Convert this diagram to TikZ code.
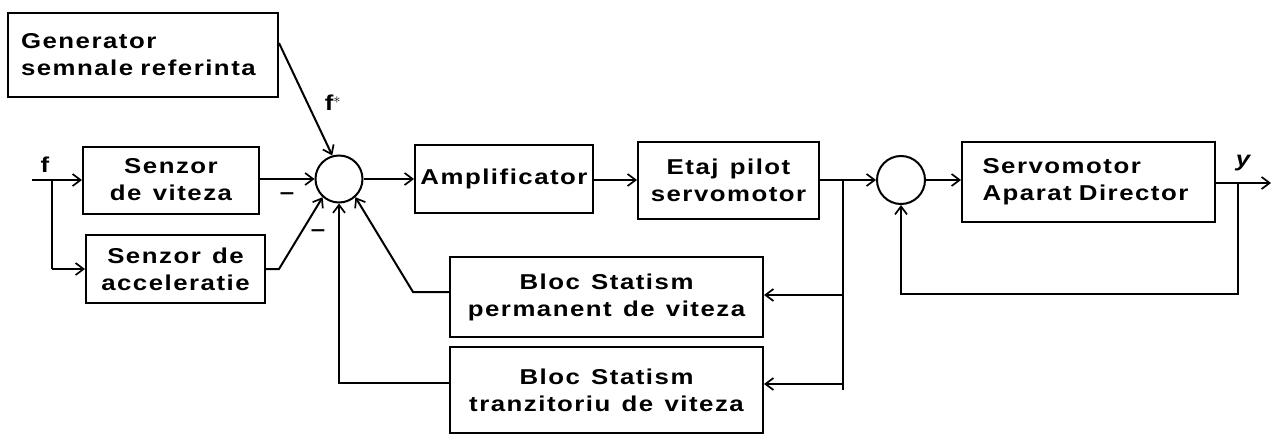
\documentclass[tikz,border=0pt]{standalone}
\usepackage{fontspec}
\newfontfamily\lab{Liberation Sans}[LetterSpace=7, FakeStretch=1.2, WordSpace=1.3]
\usetikzlibrary{arrows.meta,calc}
\begin{document}
\begin{tikzpicture}[x=1pt,y=-1pt,
  every node/.style={font=\lab\bfseries\fontsize{21.5}{27}\selectfont},
  blk/.style={draw, line width=2pt, inner sep=0pt, align=center},
  sumc/.style={draw, circle, line width=2pt, minimum size=47pt, inner sep=0pt},
  conn/.style={line width=2pt},
  arr/.style={conn, -{Straight Barb[length=8pt,width=12pt,line width=1.7pt]}},
  lbl/.style={inner sep=0pt}
]
\useasboundingbox (0,0) rectangle (1271,436);

% blocks
\node[blk, minimum width=270pt, minimum height=84pt, text width=244pt, align=left] (gen) at (143,55) {Generator\\semnale referinta};
\node[blk, minimum width=176pt, minimum height=67pt] (sv) at (171,180) {Senzor\\de viteza};
\node[blk, minimum width=179pt, minimum height=68pt] (sa) at (175.5,269) {Senzor de\\acceleratie};
\node[sumc] (c1) at (339,179) {};
\node[blk, minimum width=178pt, minimum height=68pt] (amp) at (504,179) {Amplificator};
\node[blk, minimum width=181pt, minimum height=77pt] (etaj) at (728.5,180) {Etaj pilot\\servomotor};
\node[sumc, minimum size=48pt] (c2) at (901,180) {};
\node[blk, minimum width=253pt, minimum height=80pt, text width=212pt, align=left] (servo) at (1088.5,182) {Servomotor\\Aparat Director};
\node[blk, minimum width=313pt, minimum height=80pt] (perm) at (606.5,297) {Bloc Statism\\permanent de viteza};
\node[blk, minimum width=313pt, minimum height=86pt] (tranz) at (606.5,390) {Bloc Statism\\tranzitoriu de viteza};

% labels
\node[lbl] (lf) at (45,165) {f};
\node[lbl] (lfs) at (333,103) {f$^{*}$};
\node[lbl] (ly) at (1243,163) {\itshape y};
\node[lbl] (m1) at (287,196) {\textendash};
\node[lbl] (m2) at (318,233) {\textendash};

% coordinates
\coordinate (fin) at (32,180);
\coordinate (fb) at (52,180);
\coordinate (yout) at (1271,183);
\coordinate (yb) at (1238,183);
\coordinate (eb) at (843,180);

% connectors
\draw[arr] (fin) -- (sv.west |- fin);
\draw[conn] (fb) -- (fb |- sa.west);
\draw[arr] (fb |- sa.west) -- (sa.west);
\draw[arr] (sv.east |- c1.west) -- (c1.west);
\draw[arr] (sa.east) -- ++(13,0) -- (c1.-132);
\draw[arr] ([yshift=12pt]gen.east) -- (c1.106);
\draw[arr] (c1.east) -- (amp.west |- c1.east);
\draw[arr] (amp.east |- etaj.west) -- (etaj.west);
\draw[arr] (etaj.east |- c2.west) -- (c2.west);
\draw[conn] (eb) -- (eb |- tranz.east);
\draw[arr] (eb |- 0,295) -- (perm.east |- 0,295);
\draw[arr] (eb |- 0,384) -- (tranz.east |- 0,384);
\draw[arr] (perm.west |- 0,292) -- (413,292) -- (c1.-48);
\draw[arr] (tranz.west |- 0,383) -- (c1.south |- 0,383) -- (c1.south);
\draw[arr] (c2.east) -- (servo.west |- c2.east);
\draw[arr] (servo.east |- yout) -- (yout);
\draw[arr] (yb) -- (yb |- 0,294) -- (c2.south |- 0,294) -- (c2.south);
\end{tikzpicture}
\end{document}
